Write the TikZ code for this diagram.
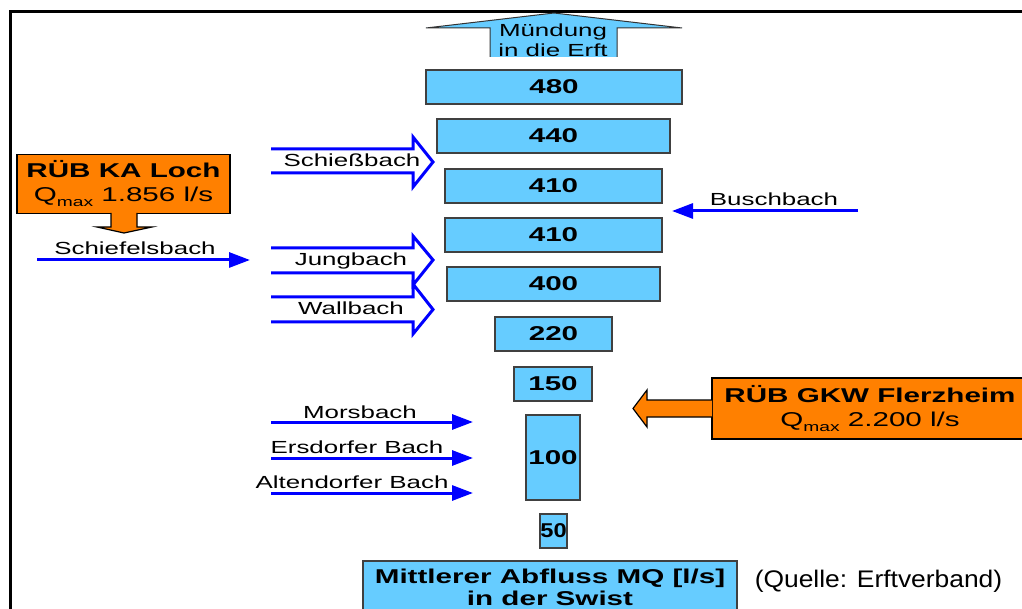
\documentclass[tikz,border=0pt]{standalone}
\usepackage{fontspec}
\setmainfont{Liberation Sans}[FakeStretch=1.48]
\newfontfamily\qfont{Liberation Sans}[FakeStretch=1.1]
\usetikzlibrary{arrows.meta}
\definecolor{barblue}{HTML}{66CCFF}
\definecolor{rorange}{HTML}{FF8000}
\definecolor{rblue}{HTML}{0000FF}
\newcommand\qsubx[1]{\raisebox{-5pt}{\fontsize{13}{14}\selectfont #1}}
\begin{document}
\begin{tikzpicture}[x=1pt,y=-1pt,
  bar/.style={draw=black!75, line width=1.2pt, fill=barblue, inner sep=0pt,
    font=\fontsize{20}{22}\selectfont\bfseries},
  lbl/.style={inner sep=0pt, anchor=base, font=\fontsize{17.5}{20}\selectfont},
  flow/.style={draw=rblue, line width=3pt, -{Triangle[length=21pt,width=15pt]}},
  bigflow/.style={draw=rblue, line width=3pt, line join=miter},
  rub/.style={draw=black, line width=1.3pt, fill=rorange, inner sep=0pt, align=center,
    font=\fontsize{20}{24}\selectfont},
  rubarrow/.style={fill=rorange, draw=black, line width=1.2pt, line join=miter},
]
\useasboundingbox (0,0) rectangle (1022,609);
\fill[white] (0,0) rectangle (1022,609);
% frame
\draw[line width=2.6pt] (10.7,615) -- (10.7,11.3) -- (1030,11.3);

% outlet arrow
\path[fill=barblue] (490,57) -- (490,28) -- (426,28) -- (554,13) -- (682,28) -- (617,28) -- (617,57) -- cycle;
\draw[black!80, line width=1pt, line join=miter] (490,57) -- (490,28) -- (426,28) -- (554,13) -- (682,28) -- (617,28) -- (617,57);
\node[inner sep=0pt, align=center, font=\fontsize{17.5}{20}\selectfont] (mund) at (553,40) {Mündung\\in die Erft};

% bars
\node[bar, minimum width=256pt, minimum height=34pt] (b480) at (554,87) {480};
\node[bar, minimum width=233pt, minimum height=34pt] (b440) at (553.5,136) {440};
\node[bar, minimum width=217pt, minimum height=34pt] (b410a) at (553.5,186) {410};
\node[bar, minimum width=217pt, minimum height=34pt] (b410b) at (553.5,235) {410};
\node[bar, minimum width=213pt, minimum height=34pt] (b400) at (553.5,284) {400};
\node[bar, minimum width=117pt, minimum height=34pt] (b220) at (553.5,334) {220};
\node[bar, minimum width=78pt, minimum height=34pt] (b150) at (553,384) {150};
\node[bar, minimum width=54pt, minimum height=85pt] (b100) at (553,457.5) {100};
\node[bar, minimum width=27pt, minimum height=34pt] (b50) at (553.5,531) {\scalebox{0.8}[1]{50}};
\node[bar, minimum width=374pt, minimum height=52pt, align=center] (mq) at (550,587)
  {Mittlerer Abfluss MQ [l/s]\\in der Swist};
\node[inner sep=0pt, anchor=base, font=\qfont\fontsize{24}{26}\selectfont] (quelle) at (878.5,587) {(Quelle: Erftverband)};

% RÜB KA Loch
\node[rub, minimum width=213pt, minimum height=59pt] (loch) at (123.5,184)
  {{\bfseries RÜB KA Loch}\\Q\qsubx{max} 1.856 l/s};
\path[rubarrow] (111,213) -- (111,227) -- (97,227) -- (124,233) -- (152,227) -- (137,227) -- (137,213);

% RÜB GKW Flerzheim
\node[rub, minimum width=316pt, minimum height=61pt] (gkw) at (870,408.5)
  {{\bfseries RÜB GKW Flerzheim}\\Q\qsubx{max} 2.200 l/s};
\path[rubarrow] (712,400) -- (647,400) -- (647,390) -- (633,408.5) -- (647,427) -- (647,417) -- (712,417);

% Schiefelsbach
\node[lbl] (schief) at (135,255) {Schiefelsbach};
\coordinate (schiefA) at (37,260);
\coordinate (schiefB) at (250,260);
\draw[flow] (schiefA) -- (schiefB);

% block inflows
\draw[bigflow] (271,149) -- (413,149) -- (413,137) -- (433,162) -- (413,187) -- (413,173) -- (271,173);
\node[lbl] (schiess) at (352,167) {Schießbach};
\draw[bigflow] (271,248) -- (413,248) -- (413,236) -- (433,260) -- (413,285) -- (413,273) -- (271,273);
\node[lbl] (jung) at (351,266) {Jungbach};
\draw[bigflow] (271,297) -- (413,297) -- (413,284) -- (433,309.5) -- (413,334) -- (413,322) -- (271,322);
\node[lbl] (wall) at (351,315) {Wallbach};

% Buschbach
\node[lbl] (busch) at (774,206) {Buschbach};
\coordinate (buschA) at (858,211);
\coordinate (buschB) at (672,211);
\draw[flow] (buschA) -- (buschB);

% lower inflows
\node[lbl] (mors) at (360,418) {Morsbach};
\coordinate (morsA) at (271,422);
\coordinate (morsB) at (473,422);
\draw[flow] (morsA) -- (morsB);
\node[lbl] (ers) at (357,453) {Ersdorfer Bach};
\coordinate (ersA) at (271,458);
\coordinate (ersB) at (473,458);
\draw[flow] (ersA) -- (ersB);
\node[lbl] (alt) at (352,488) {Altendorfer Bach};
\coordinate (altA) at (271,493);
\coordinate (altB) at (473,493);
\draw[flow] (altA) -- (altB);
\end{tikzpicture}
\end{document}
